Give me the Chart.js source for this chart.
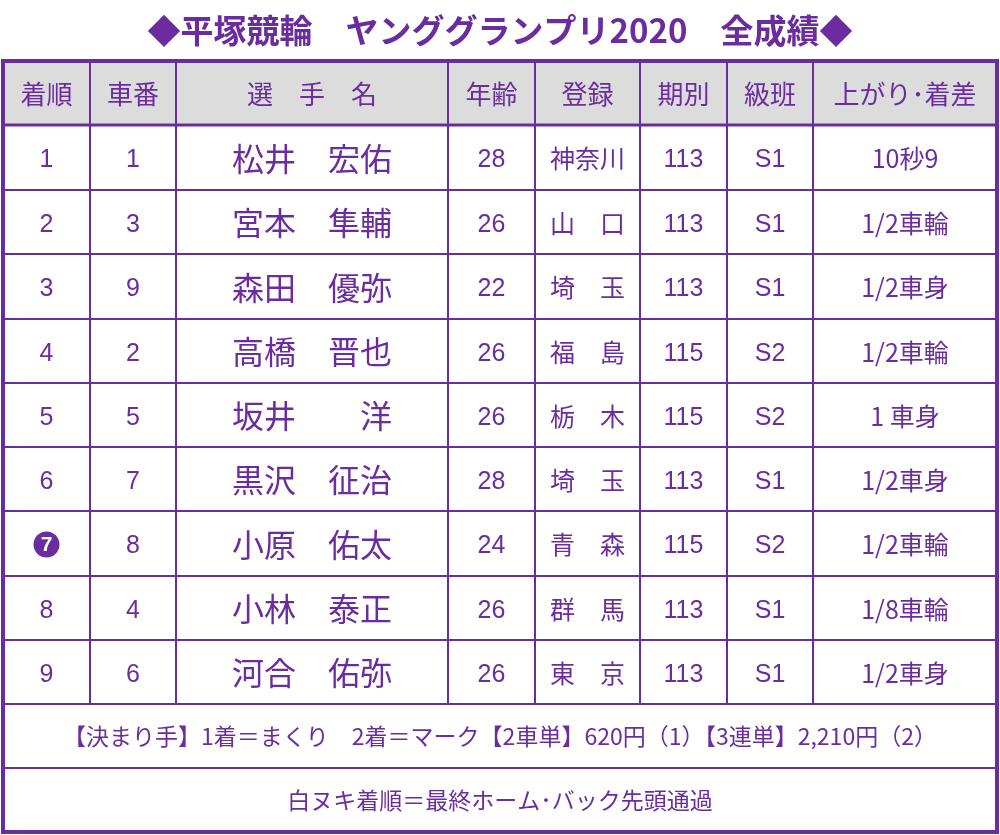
<!DOCTYPE html>
<html><head><meta charset="utf-8">
<script src="https://cdn.jsdelivr.net/npm/chart.js@4"></script>
<style>body{margin:0;background:#fff}#wrap{width:1000px;height:835px}</style>
</head><body><div id="wrap"><canvas id="c"></canvas></div>
<script>
const title = "◆平塚競輪　ヤンググランプリ2020　全成績◆";
const headers = ["着順", "車番", "選　手　名", "年齢", "登録", "期別", "級班", "上がり･着差"];
const ranks = ["1", "2", "3", "4", "5", "6", "7", "8", "9"];
const bikes = ["1", "3", "9", "2", "5", "7", "8", "4", "6"];
const names = ["松井　宏佑", "宮本　隼輔", "森田　優弥", "高橋　晋也", "坂井　　洋", "黒沢　征治", "小原　佑太", "小林　泰正", "河合　佑弥"];
const ages = ["28", "26", "22", "26", "26", "28", "24", "26", "26"];
const prefs = ["神奈川", "山　口", "埼　玉", "福　島", "栃　木", "埼　玉", "青　森", "群　馬", "東　京"];
const terms = ["113", "113", "113", "115", "115", "113", "115", "113", "113"];
const classes = ["S1", "S1", "S1", "S2", "S2", "S1", "S2", "S1", "S1"];
const margins = ["10秒9", "1/2車輪", "1/2車身", "1/2車輪", "1 車身", "1/2車身", "1/2車輪", "1/8車輪", "1/2車身"];
const whiteRanks = ["7"];
const notes = ["【決まり手】1着＝まくり　2着＝マーク【2車単】620円（1）【3連単】2,210円（2）", "白ヌキ着順＝最終ホーム･バック先頭通過"];

// layout (page units)
const colEdges = [3, 90, 176, 448, 535, 640, 727, 813, 997];
const rowEdges = [61, 125, 190, 254, 319, 383, 447, 511, 576, 640, 704, 768, 832];
const PURPLE = "#6a2c9e";
const NUM = "'Liberation Sans Narrow','Liberation Sans',Arial,sans-serif";
const JP = "'Noto Sans CJK JP',sans-serif";

const tablePlugin = {
  id: "table",
  afterDraw(chart) {
    const ctx = chart.ctx, X = chart.scales.x, Y = chart.scales.y;
    const px = v => X.getPixelForValue(v), py = v => Y.getPixelForValue(v);
    ctx.save();
    ctx.fillStyle = PURPLE; ctx.textAlign = "center"; ctx.textBaseline = "middle";
    ctx.font = "bold 33px " + JP;
    ctx.fillText(title, px(500), py(30));
    ctx.fillStyle = "#dcdcdc";
    ctx.fillRect(px(3), py(61), px(997) - px(3), py(125) - py(61));
    // grid
    ctx.strokeStyle = PURPLE;
    rowEdges.forEach((r, i) => {
      ctx.lineWidth = (i === 1) ? 3 : 2;
      ctx.beginPath(); ctx.moveTo(px(3), py(r)); ctx.lineTo(px(997), py(r)); ctx.stroke();
    });
    colEdges.forEach((c, i) => {
      if (i === 0 || i === colEdges.length - 1) return;
      ctx.lineWidth = 2;
      ctx.beginPath(); ctx.moveTo(px(c), py(61)); ctx.lineTo(px(c), py(704)); ctx.stroke();
    });
    ctx.lineWidth = 4;
    ctx.strokeRect(px(3), py(61), px(997) - px(3), py(832) - py(61));
    const mid = (a, i) => (a[i] + a[i + 1]) / 2;
    ctx.fillStyle = PURPLE;
    ctx.font = "26px " + JP;
    headers.forEach((h, i) => ctx.fillText(h, px(mid(colEdges, i)), py(94)));
    const cols = [ranks, bikes, names, ages, prefs, terms, classes, margins];
    ranks.forEach((_, r) => {
      const y = py(mid(rowEdges, r + 1) + 1);
      cols.forEach((arr, c) => {
        const t = arr[r], x = px(mid(colEdges, c));
        if (c === 0 && whiteRanks.includes(t)) {
          ctx.beginPath(); ctx.arc(x, y, 13, 0, Math.PI * 2); ctx.fillStyle = PURPLE; ctx.fill();
          ctx.fillStyle = "#fff"; ctx.font = "bold 21px " + NUM; ctx.fillText(t, x, y + 1);
          ctx.fillStyle = PURPLE; return;
        }
        let dy = 0;
        if (c === 2) ctx.font = "32px " + JP;
        else if (c === 4 || c === 7) ctx.font = "25px " + JP;
        else { ctx.font = "25px " + NUM; dy = 2; }
        ctx.fillText(t, x, y + dy);
      });
    });
    ctx.font = "23px " + JP;
    notes.forEach((n, i) => ctx.fillText(n, px(500), py(mid(rowEdges, 10 + i))));
    ctx.restore();
  }
};

new Chart(document.getElementById("c"), {
  type: "scatter",
  data: { datasets: [{ data: [] }] },
  options: {
    responsive: true, maintainAspectRatio: false, animation: false,
    layout: { padding: 0 },
    plugins: { legend: { display: false }, tooltip: { enabled: false } },
    scales: {
      x: { type: "linear", min: 0, max: 1000, display: false },
      y: { type: "linear", min: 0, max: 835, reverse: true, display: false }
    }
  },
  plugins: [tablePlugin]
});
</script></body></html>
